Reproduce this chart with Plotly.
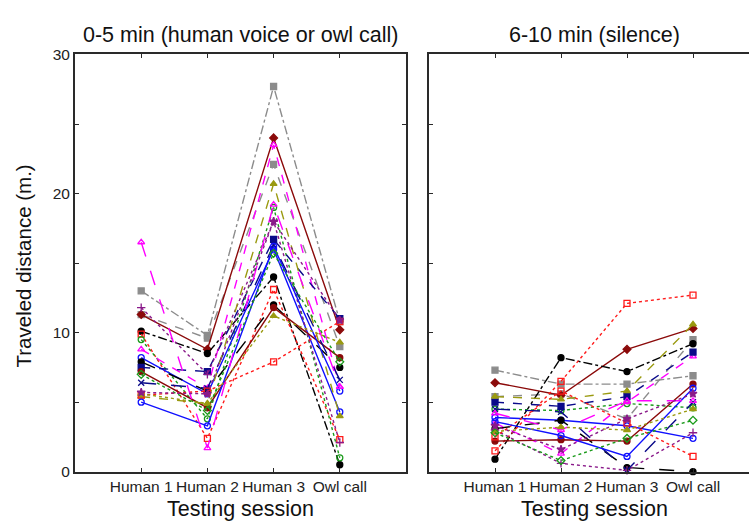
import plotly.graph_objects as go

sessions = ["Human 1", "Human 2", "Human 3", "Owl call"]
session_x = [1, 2, 3, 4]

# Traveled distance (m.) per individual: 0-5 min (left) and 6-10 min (right)
s01_left = [13.0, 9.8, 27.7, 10.8]
s01_right = [7.3, 6.3, 6.3, 6.9]
s02_left = [11.3, 9.6, 22.1, 9.0]
s02_right = [5.4, 5.6, 3.8, 9.5]
s03_left = [11.3, 8.8, 24.0, 10.2]
s03_right = [6.4, 5.5, 8.8, 10.3]
s04_left = [10.1, 8.5, 14.0, 0.5]
s04_right = [0.9, 8.2, 7.2, 9.2]
s05_left = [9.9, 2.4, 13.1, 2.3]
s05_right = [1.5, 6.5, 12.1, 12.7]
s06_left = [9.5, 3.8, 19.0, 1.0]
s06_right = [4.5, 4.4, 4.9, 4.6]
s07_left = [8.8, 6.0, 23.5, 6.1]
s07_right = [3.5, 1.3, 5.0, 8.3]
s08_left = [8.2, 5.6, 16.0, 4.3]
s08_right = [3.9, 3.7, 3.3, 2.4]
s09_left = [7.9, 5.8, 12.0, 7.5]
s09_right = [3.1, 3.7, 0.3, 0.0]
s10_left = [7.5, 7.2, 16.7, 11.0]
s10_right = [5.0, 4.7, 5.4, 8.6]
s11_left = [7.2, 4.6, 11.8, 8.2]
s11_right = [2.2, 2.3, 2.2, 6.3]
s12_left = [6.4, 6.0, 16.3, 6.6]
s12_right = [4.5, 4.3, 0.1, 5.0]
s13_left = [11.8, 7.0, 18.0, 2.1]
s13_right = [3.0, 0.6, 0.1, 2.8]
s14_left = [5.4, 4.9, 20.7, 4.0]
s14_right = [5.4, 5.2, 5.8, 10.6]
s15_left = [5.5, 5.8, 7.9, 10.8]
s15_right = [2.5, 5.8, 3.5, 1.1]
s16_left = [5.0, 3.3, 16.2, 5.8]
s16_right = [3.6, 2.6, 1.1, 6.0]
s17_left = [16.5, 1.7, 19.2, 6.1]
s17_right = [4.2, 3.0, 5.1, 5.1]
s18_left = [5.6, 4.9, 11.2, 9.3]
s18_right = [2.9, 3.2, 3.0, 4.5]
s19_left = [7.0, 4.4, 15.7, 7.9]
s19_right = [2.8, 0.8, 2.4, 3.7]
s20_left = [5.7, 5.6, 18.0, 10.9]
s20_right = [3.3, 1.6, 3.8, 5.6]

lefts = [s01_left, s02_left, s03_left, s04_left, s05_left, s06_left, s07_left,
         s08_left, s09_left, s10_left, s11_left, s12_left, s13_left, s14_left,
         s15_left, s16_left, s17_left, s18_left, s19_left, s20_left]
rights = [s01_right, s02_right, s03_right, s04_right, s05_right, s06_right, s07_right,
          s08_right, s09_right, s10_right, s11_right, s12_right, s13_right, s14_right,
          s15_right, s16_right, s17_right, s18_right, s19_right, s20_right]

GRAY = "#8c8c8c"; DRED = "#8b0a0a"; BLACK = "#000000"; RED = "#ff1a1a"
GREEN = "#1a9a1a"; MAG = "#ff00ff"; BLUE = "#1010ff"; NAVY = "#0a0a8a"
PURP = "#8a1a8a"; OLIVE = "#9a9a10"
styles = [
    (GRAY, "dashdot", "square"),
    (GRAY, "dash", "square"),
    (DRED, "solid", "diamond"),
    (BLACK, "dashdot", "circle"),
    (RED, "dot", "square-open"),
    (GREEN, "dot", "circle-open"),
    (MAG, "dash", "triangle-up-open"),
    (BLUE, "solid", "circle-open"),
    (BLACK, "longdash", "circle"),
    (NAVY, "dash", "square"),
    (DRED, "solid", "circle"),
    (NAVY, "longdash", "x-thin-open"),
    (PURP, "dot", "cross-thin-open"),
    (OLIVE, "dash", "triangle-up"),
    (RED, "dot", "square-open"),
    (BLUE, "solid", "circle-open"),
    (MAG, "longdash", "triangle-up-open"),
    (OLIVE, "dot", "triangle-up"),
    (GREEN, "dot", "diamond-open"),
    (PURP, "dot", "star"),
]

fig = go.Figure()
for i, (lv, rv) in enumerate(zip(lefts, rights)):
    color, dash, sym = styles[i]
    for vals, xa, ya in ((lv, "x", "y"), (rv, "x2", "y2")):
        fig.add_trace(go.Scatter(
            x=session_x, y=vals, xaxis=xa, yaxis=ya, mode="lines+markers",
            line=dict(color=color, dash=dash, width=1.4),
            marker=dict(symbol=sym, size=6, color=color,
                        line=dict(color=color, width=1.3)),
            showlegend=False, hoverinfo="skip", cliponaxis=False))

W, H = 749, 531
x1 = [75 / W, 406 / W]
x2 = [429 / W, 1.0]
yd = [(H - 478) / H, (H - 47) / H]
AX = "#2a2a2a"
x2max = 320 / 66
tickfont = dict(family="Liberation Sans, Arial, sans-serif", size=15.5, color="#222")

common_x = dict(tickvals=session_x, ticktext=sessions, ticks="inside", ticklen=4,
                tickcolor=AX, showline=True, linecolor=AX, linewidth=2,
                showgrid=False, zeroline=False, tickfont=tickfont)
fig.update_layout(
    width=W, height=H, margin=dict(l=0, r=0, t=0, b=0),
    paper_bgcolor="white", plot_bgcolor="white", showlegend=False,
    xaxis=dict(domain=x1, range=[0, 5], mirror="ticks", anchor="y", **common_x),
    xaxis2=dict(domain=x2, range=[0, x2max], mirror=False, anchor="y2", **common_x),
    xaxis3=dict(domain=x2, range=[0, x2max], overlaying="x2", side="top", anchor="y2",
                tickvals=session_x, showticklabels=False, ticks="inside", ticklen=4,
                tickcolor=AX, showline=True, linecolor=AX, linewidth=2,
                showgrid=False, zeroline=False),
    yaxis=dict(domain=yd, range=[0, 30], tickvals=[0, 10, 20, 30], ticks="inside",
               ticklen=4, tickcolor=AX, showline=True, linecolor=AX, linewidth=2,
               mirror="ticks", showgrid=False, zeroline=False, tickfont=tickfont,
               minor=dict(tickvals=[5, 15, 25], ticks="inside", ticklen=4, tickcolor=AX),
               anchor="x"),
    yaxis2=dict(domain=yd, range=[0, 30], tickvals=[0, 5, 10, 15, 20, 25, 30],
                showticklabels=False, ticks="inside", ticklen=4, tickcolor=AX,
                showline=True, linecolor=AX, linewidth=2, mirror=False,
                showgrid=False, zeroline=False, anchor="x2"),
)
fig.add_trace(go.Scatter(x=[None], y=[None], xaxis="x3", yaxis="y2",
                         showlegend=False, hoverinfo="skip"))

font_big = dict(family="Liberation Sans, Arial, sans-serif", size=21.5, color="#111")
ann = [
    dict(text="0-5 min (human voice or owl call)", x=(x1[0] + x1[1]) / 2, y=(H - 27) / H),
    dict(text="6-10 min (silence)", x=(429 + 759) / 2 / W, y=(H - 27) / H),
    dict(text="Testing session", x=(x1[0] + x1[1]) / 2, y=(H - 517) / H),
    dict(text="Testing session", x=(429 + 759) / 2 / W, y=(H - 517) / H),
]
for a in ann:
    fig.add_annotation(xref="paper", yref="paper", showarrow=False,
                       xanchor="center", yanchor="middle", font=font_big, **a)
fig.add_annotation(text="Traveled distance (m.)", xref="paper", yref="paper",
                   x=23 / W, y=(H - 266) / H, textangle=-90, showarrow=False,
                   xanchor="center", yanchor="middle",
                   font=dict(family="Liberation Sans, Arial, sans-serif", size=20.5, color="#111"))

fig.write_html("out.html")
